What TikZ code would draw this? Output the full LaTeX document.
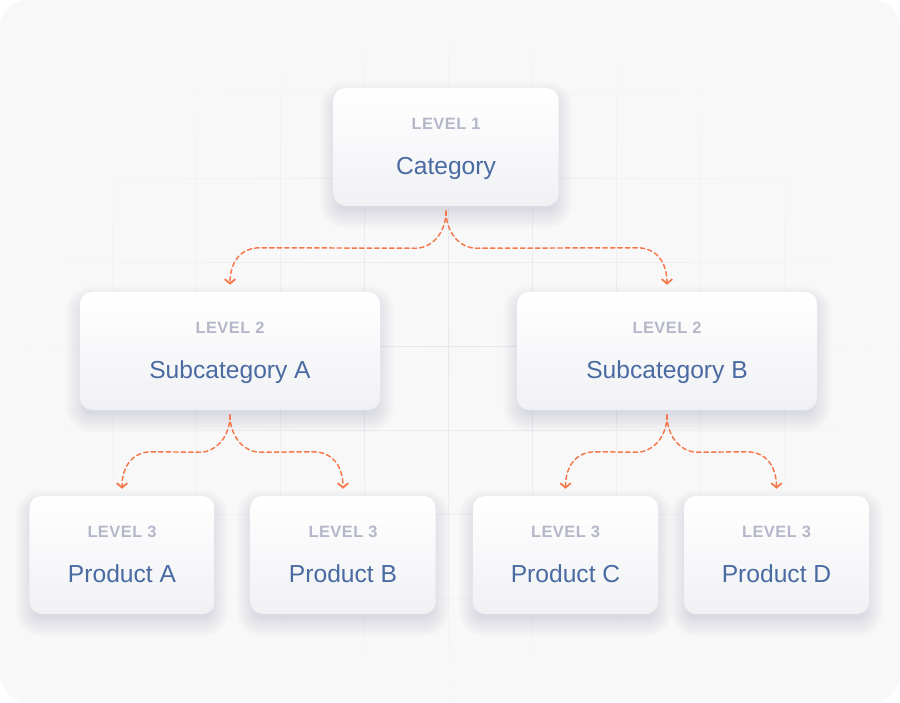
\documentclass[tikz,border=0pt]{standalone}
\usepackage{fontspec}
\setmainfont{Liberation Sans}
\newfontfamily\lvlfont[LetterSpace=3]{Liberation Sans}
\usetikzlibrary{arrows.meta,calc,fadings}
\definecolor{bgcol}{HTML}{F8F8F9}
\definecolor{gridcol}{HTML}{E6E6EA}
\definecolor{cardtop}{HTML}{FFFFFF}
\definecolor{cardbot}{HTML}{F0F1F4}
\definecolor{lvlcol}{HTML}{B5B7C9}
\definecolor{ttlcol}{HTML}{4A6AA2}
\definecolor{linkcol}{HTML}{F5784A}
\definecolor{shadowcol}{HTML}{1E2A4A}
\pgfdeclarelayer{back}
\pgfdeclarelayer{shadow}
\pgfsetlayers{back,shadow,main}
\tikzfading[name=gridfade, inner color=transparent!5, outer color=transparent!100]
\newcommand\lvl[1]{{\lvlfont\bfseries\fontsize{14}{16}\selectfont\color{lvlcol}\rule{0pt}{12.6pt}#1}}
\newcommand\ttl[1]{{\fontsize{21}{25}\selectfont\color{ttlcol}#1\vphantom{gy}}}
% connector from #1 down to #2, #3 = -1 (left) or 1 (right)
\newcommand\branch[3]{%
\draw[link] ([yshift=-4pt]#1.south) .. controls +(0,24) and +({-1*(#3)*14},0) .. ($(#1.south)+({(#3)*30},42)$)
  -- ($(#2.north)+({-1*(#3)*30},-44)$) .. controls +({(#3)*20},0) and +(0,-22) .. ([yshift=6pt]#2.north);}
\tikzset{
  card/.style={rounded corners=0.36cm, top color=cardtop, bottom color=cardbot,
    minimum height=3.54cm, align=center, inner sep=0pt, font=\fontsize{21}{25}\selectfont},
  link/.style={linkcol, line width=1.25pt, dash pattern=on 3.8pt off 2.6pt,
    -{Straight Barb[length=3.8pt,width=9pt,line width=1.5pt]}},
  gridline/.style={gridcol, line width=0.8pt}
}
\begin{document}
\begin{tikzpicture}[x=0.03cm, y=-0.03cm, line join=round, line cap=round]
\useasboundingbox (0,0) rectangle (900,702);
% background and grid
\begin{pgfonlayer}{back}
\fill[white] (0,0) rectangle (900,702);
\fill[bgcol, rounded corners=0.84cm] (0,0) rectangle (900,702);
\begin{scope}
\clip[rounded corners=0.84cm] (0,0) rectangle (900,702);
\draw[gridline, path fading=gridfade]
  foreach \x in {29,113,...,869} {(\x,0) -- (\x,702)}
  foreach \y in {10,94,...,682} {(0,\y) -- (900,\y)};
\end{scope}
\end{pgfonlayer}
% cards
\node[card, minimum width=6.75cm] (cat) at (446,147) {\lvl{LEVEL 1}\\[13.5pt]\ttl{Category}};
\node[card, minimum width=9cm] (subA) at (230,351) {\lvl{LEVEL 2}\\[13.5pt]\ttl{Subcategory A}};
\node[card, minimum width=9cm] (subB) at (667,351) {\lvl{LEVEL 2}\\[13.5pt]\ttl{Subcategory B}};
\node[card, minimum width=5.55cm] (prodA) at (122,555) {\lvl{LEVEL 3}\\[13.5pt]\ttl{Product A}};
\node[card, minimum width=5.55cm] (prodB) at (343,555) {\lvl{LEVEL 3}\\[13.5pt]\ttl{Product B}};
\node[card, minimum width=5.55cm] (prodC) at (565.5,555) {\lvl{LEVEL 3}\\[13.5pt]\ttl{Product C}};
\node[card, minimum width=5.55cm] (prodD) at (776.5,555) {\lvl{LEVEL 3}\\[13.5pt]\ttl{Product D}};
% soft shadows under the cards
\begin{pgfonlayer}{shadow}
\foreach \n in {cat,subA,subB,prodA,prodB,prodC,prodD}
  \foreach \k in {0,2,...,18}
    \fill[shadowcol, opacity=0.01, rounded corners=0.24cm+\k*0.03cm]
      ($(\n.south west)+(-\k+4,\k+4)$) rectangle ($(\n.north east)+(\k-4,-\k+12)$);
\end{pgfonlayer}
% connectors
\branch{cat}{subA}{-1}
\branch{cat}{subB}{1}
\branch{subA}{prodA}{-1}
\branch{subA}{prodB}{1}
\branch{subB}{prodC}{-1}
\branch{subB}{prodD}{1}
\end{tikzpicture}
\end{document}
